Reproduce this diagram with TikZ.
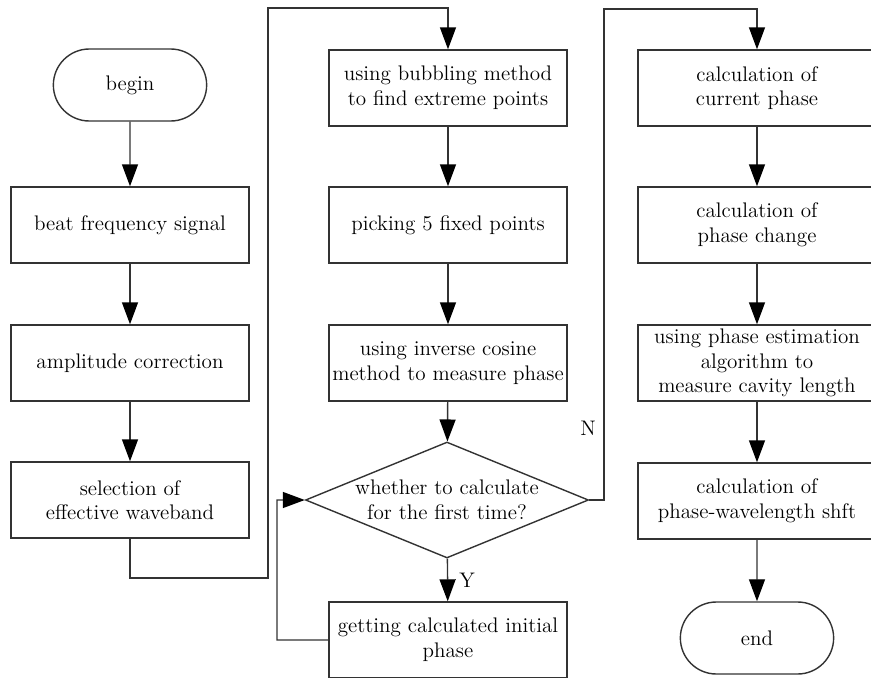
\documentclass[tikz,border=0pt]{standalone}
\usepackage{amsmath, amssymb, xcolor, tikz}
\usetikzlibrary{positioning, arrows.meta, shapes.geometric, shapes.misc}
\tikzset{->,>={Triangle[length=4.4mm,width=3.2mm,color=black]},
every node/.style={font=\fontsize{12}{14}\selectfont, text=black},
stepbox/.style={draw=black!80, rectangle, minimum width=4.76cm, minimum height=1.52cm, inner sep=2pt, align=center},
terminal/.style={draw=black!80, rounded rectangle, minimum width=3.3cm, minimum height=1.44cm},
decision/.style={draw=black!80, diamond, aspect=2.44, inner sep=-2pt, minimum width=5.66cm, minimum height=2.32cm, align=center},
}

\begin{document}
\begin{tikzpicture}[line width=0.8pt, draw=black!80]
    \useasboundingbox (-2.6,1.7) rectangle (14.82,-11.86);

    \node[terminal] (begin) {begin};
    \node[stepbox, yshift=-2.8cm] (beat) {beat frequency signal};
    \node[stepbox, yshift=-5.56cm] (ampl) {amplitude correction};
    \node[stepbox, yshift=-8.3cm] (sel) {selection of\\effective waveband};

    \node[stepbox, xshift=6.36cm, yshift=-0.06cm] (bubble) {using bubbling method\\to find extreme points};
    \node[stepbox, xshift=6.36cm, yshift=-2.8cm] (pick) {picking 5 fixed points};
    \node[stepbox, xshift=6.36cm, yshift=-5.56cm] (inv) {using inverse cosine\\method to measure phase};
    \node[decision, xshift=6.34cm, yshift=-8.3cm] (first) {whether to calculate\\for the first time?};
    \node[stepbox, xshift=6.36cm, yshift=-11.1cm] (init) {getting calculated initial\\phase};

    \node[stepbox, xshift=12.54cm, yshift=-0.06cm] (cur) {calculation of\\current phase};
    \node[stepbox, xshift=12.54cm, yshift=-2.8cm] (chg) {calculation of\\phase change};
    \node[stepbox, xshift=12.54cm, yshift=-5.56cm] (est) {using phase estimation\\algorithm to\\measure cavity length};
    \node[stepbox, xshift=12.54cm, yshift=-8.32cm] (shft) {calculation of\\phase-wavelength shft};
    \node[terminal, xshift=12.54cm, yshift=-11.06cm] (end) {end};

    \coordinate (j1) at (2.76,-9.86);
    \coordinate (j2) at (2.76,1.54);
    \coordinate (j3) at (9.48,1.52);
    \coordinate (j4) at (2.94,-8.3);
    \node (nlab) at (9.16,-6.86) {N};

    \draw
    (begin) edge[] (beat)
    (beat) edge[] (ampl)
    (ampl) edge[] (sel)

    (bubble) edge[] (pick)
    (pick) edge[] (inv)
    (inv) edge[] (first)
    (first) edge[] node[right, xshift=3pt]{Y} (init)

    (cur) edge[] (chg)
    (chg) edge[] (est)
    (est) edge[] (shft)
    (shft) edge[] (end)
    ;

    \draw (sel.south) |- (j1) -- (j2) -| (bubble.north);
    \draw (first.east) -| (j3) -| (cur.north);
    \draw (init.west) -| (j4) -- (first.west);
\end{tikzpicture}
\end{document}
